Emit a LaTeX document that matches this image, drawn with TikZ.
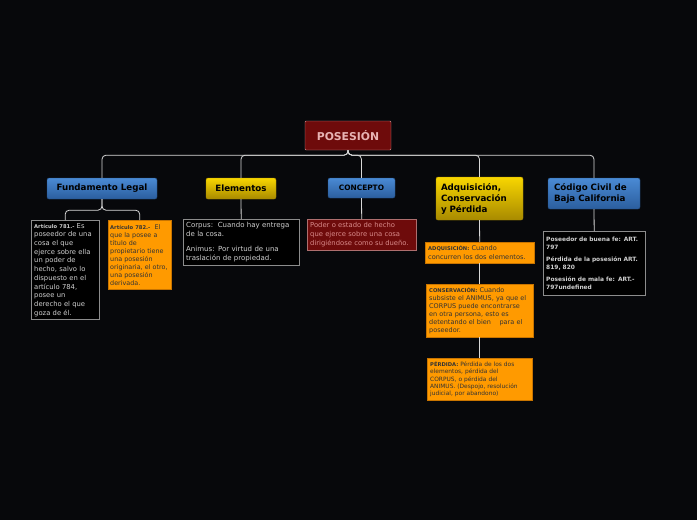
\documentclass[tikz,border=0pt]{standalone}
\usepackage{fontspec}
\setmainfont{DejaVu Sans}

\definecolor{bgdark}{HTML}{07080B}
\definecolor{rootred}{HTML}{6E0B0B}
\definecolor{rootedge}{HTML}{D89494}
\definecolor{roottext}{HTML}{E8B4B4}
\definecolor{bluetop}{HTML}{4A8AD4}
\definecolor{bluebot}{HTML}{2B5E9E}
\definecolor{yeltop}{HTML}{F8D600}
\definecolor{yelbot}{HTML}{A88A00}
\definecolor{notegray}{HTML}{8C8C8C}
\definecolor{notetext}{HTML}{D0D0D0}
\definecolor{noteorange}{HTML}{FF9A00}
\definecolor{orangeedge}{HTML}{C87400}
\definecolor{conceptred}{HTML}{6E0B0B}
\definecolor{concepttext}{HTML}{D88A8A}
\definecolor{linegray}{HTML}{D8D8D8}

\tikzset{
  topic/.style = {rounded corners = 2pt, inner sep = 0pt, text = black,
                  font = \fontsize{8.7}{11}\selectfont\bfseries},
  bluetopic/.style = {topic, top color = bluetop, bottom color = bluebot, draw = bluebot!80!black},
  yellowtopic/.style = {topic, top color = yeltop, bottom color = yelbot, draw = yelbot},
  note/.style = {anchor = north west, inner sep = 3pt, align = left,
                 font = \fontsize{6.6}{8.7}\selectfont},
  blacknote/.style = {note, fill = black, draw = notegray, text = notetext},
  orangenote/.style = {note, fill = noteorange, draw = orangeedge, text = black!80},
  link/.style = {draw = linegray, line width = 0.8pt, rounded corners = 4pt},
}
\newcommand{\notehead}[1]{{\fontsize{5.2}{8}\selectfont\bfseries #1}}

\begin{document}
\begin{tikzpicture}[x = 1pt, y = -1pt]

\useasboundingbox [fill = bgdark] (0, 0) rectangle (697, 520);

\node [rounded corners = 1pt, fill = rootred, draw = rootedge, text = roottext,
       minimum width = 86pt, minimum height = 29pt,
       font = \fontsize{10.8}{12}\selectfont\bfseries] (posesion) at (348, 135.5) {POSESIÓN};

\node [bluetopic, minimum width = 110pt, minimum height = 21pt] (fundamento) at (102, 188.5) {Fundamento Legal};
\node [yellowtopic, minimum width = 70pt, minimum height = 21pt] (elementos) at (241, 188.5) {Elementos};
\node [bluetopic, minimum width = 67pt, minimum height = 20pt,
       font = \fontsize{7.4}{9}\selectfont\bfseries] (concepto) at (361.5, 188) {CONCEPTO};
\node [yellowtopic, minimum width = 87pt, minimum height = 43pt, text width = 77pt,
       align = left] (adquisicion) at (479.5, 198.5) {Adquisición,\\Conservación\\y Pérdida};
\node [bluetopic, minimum width = 92pt, minimum height = 31pt, text width = 80pt,
       align = left] (codigo) at (594, 193.5) {Código Civil de\\Baja California};

\node [blacknote, text width = 62pt, minimum height = 99pt,
       font = \fontsize{6.8}{8.7}\selectfont] (art781) at (31, 220)
  {\notehead{Artículo 781.-} Es\\poseedor de una\\cosa el que\\ejerce sobre ella\\un poder de\\hecho, salvo lo\\dispuesto en el\\artículo 784,\\posee un\\derecho el que\\goza de él.};
\node [orangenote, text width = 59pt, minimum height = 69pt, inner sep = 2pt,
       font = \fontsize{6.4}{8}\selectfont] (art782) at (108, 220)
  {\notehead{Artículo 782.-}\ \ El\\que la posee a\\título de\\propietario tiene\\una posesión\\originaria, el otro,\\una posesión\\derivada.};

\node [blacknote, text width = 110pt, minimum height = 46pt,
       font = \fontsize{7}{9.3}\selectfont] (elemnote) at (183, 219)
  {Corpus:\ \ Cuando hay entrega\\de la cosa.\\[5pt]Animus: Por virtud de una\\traslación de propiedad.};

\node [note, fill = conceptred, draw = concepttext!80!black, text = concepttext, text width = 103pt,
       minimum height = 31pt, font = \fontsize{6.8}{8.7}\selectfont] (conceptnote) at (307, 219)
  {Poder o estado de hecho\\que ejerce sobre una cosa\\dirigiéndose como su dueño.};

\node [orangenote, text width = 103pt, minimum height = 21pt] (adqnote) at (425, 242)
  {\notehead{ADQUISICIÓN:} Cuando\\concurren los dos elementos.};
\node [orangenote, text width = 101pt, minimum height = 53pt,
       font = \fontsize{6.5}{8}\selectfont] (consnote) at (426, 284)
  {\notehead{CONSERVACIÓN:} Cuando\\subsiste el ANIMUS, ya que el\\CORPUS puede encontrarse\\en otra persona, esto es\\detentando el bien\ \ \ \ para el\\poseedor.};
\node [orangenote, text width = 99pt, minimum height = 42pt,
       font = \fontsize{5.9}{7.3}\selectfont] (perdnote) at (427, 358)
  {\notehead{PÉRDIDA:} Pérdida de los dos\\elementos, pérdida del\\CORPUS, o pérdida del\\ANIMUS. (Despojo, resolución\\judicial, por abandono)};

\node [blacknote, text width = 96pt, minimum height = 64pt,
       font = \fontsize{5.9}{8}\selectfont\bfseries] (codnote) at (543, 231)
  {Poseedor de buena fe: ART.\\797\\[4pt]Pérdida de la posesión ART.\\819, 820\\[4pt]Posesión de mala fe: ART.-\\797undefined};

\path [link] (posesion.south) -- ++(0, 5) -| (fundamento.north);
\path [link] (posesion.south) -- ++(0, 5) -| (elementos.north);
\path [link] (posesion.south) -- ++(0, 5) -| (concepto.north);
\path [link] (posesion.south) -- ++(0, 5) -| (adquisicion.north);
\path [link] (posesion.south) -- ++(0, 5) -| (codigo.north);

\path [link] (fundamento.south) -- ++(0, 11) -| (art781.north);
\path [link] (fundamento.south) -- ++(0, 11) -| (art782.north);
\path [link] (elementos.south) -- (elemnote.north);
\path [link] (concepto.south) -- (conceptnote.north);
\path [link] (adquisicion.south) -- (adqnote.north);
\path [link] (adqnote.south) -- (consnote.north);
\path [link] (consnote.south) -- (perdnote.north);
\path [link] (codigo.south) -- (codnote.north);
\end{tikzpicture}
\end{document}
